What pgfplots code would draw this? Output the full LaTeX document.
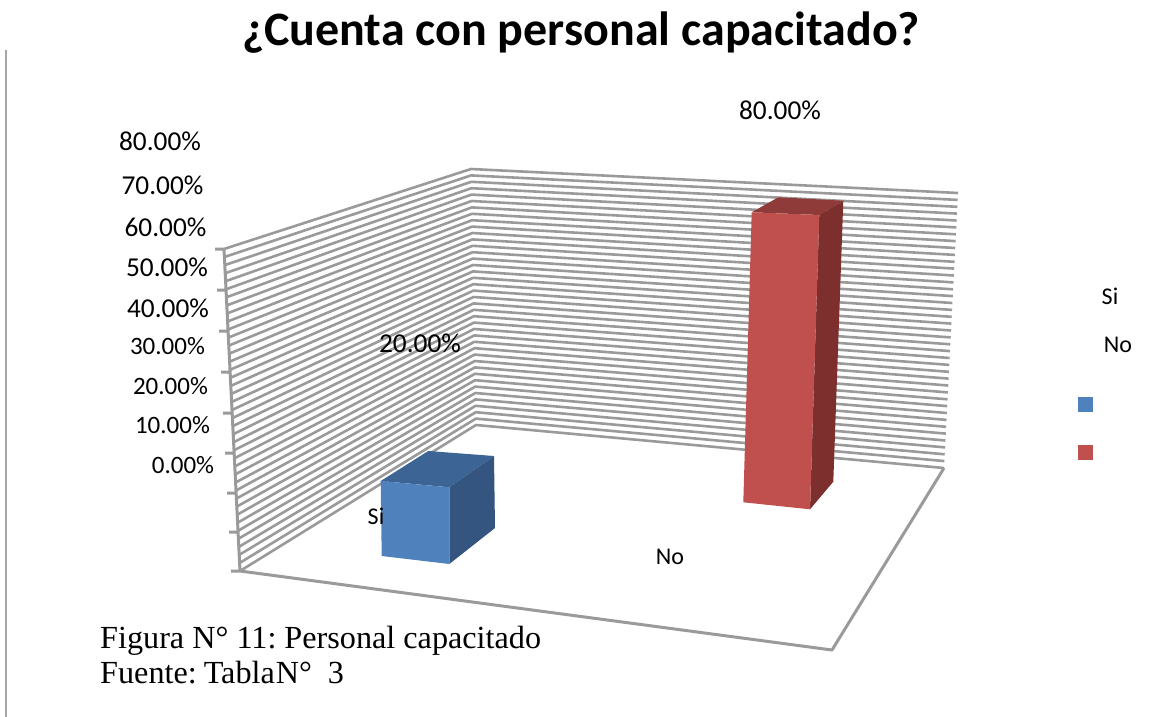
\documentclass[border=0pt]{standalone}
\usepackage{pgfplots}
\pgfplotsset{compat=1.18}
\usepackage{fontspec}
\setmainfont{Carlito}
\newfontfamily\capfont{Liberation Serif}
\definecolor{gridc}{HTML}{9A9A9A}
\definecolor{bluef}{HTML}{4F81BD}
\definecolor{bluet}{HTML}{3C6494}
\definecolor{blues}{HTML}{33557F}
\definecolor{redf}{HTML}{C0504D}
\definecolor{redt}{HTML}{8F3B39}
\definecolor{reds}{HTML}{7C2F2D}
\frenchspacing
\begin{document}
\begin{tikzpicture}
\useasboundingbox (0,0) rectangle (1151pt,717pt);
\begin{axis}[at={(0,0)},anchor=south west,scale only axis,width=1151pt,height=717pt,
  xmin=0,xmax=1151,ymin=0,ymax=717,y dir=reverse,axis lines=none,clip=false,
  unbounded coords=jump]
% page rule
\addplot[draw=gray!70,line width=2.4pt,mark=none] coordinates {(6,50) (6,717)};
% gridlines: left edge, back corner, right edge
\addplot[draw=gridc,line width=2.6pt,mark=none,line join=round] coordinates {
(224,249) (471,169) (958,193) (nan,nan)
(224.4,257) (471.1,175.4) (957.7,199.9) (nan,nan)
(224.8,265.1) (471.3,181.8) (957.3,206.8) (nan,nan)
(225.2,273.2) (471.4,188.2) (957,213.6) (nan,nan)
(225.6,281.2) (471.5,194.6) (956.6,220.5) (nan,nan)
(226,289.3) (471.6,201) (956.3,227.4) (nan,nan)
(226.4,297.3) (471.8,207.4) (955.9,234.3) (nan,nan)
(226.8,305.4) (471.9,213.8) (955.6,241.1) (nan,nan)
(227.2,313.4) (472,220.2) (955.2,248) (nan,nan)
(227.6,321.5) (472.1,226.6) (954.9,254.9) (nan,nan)
(228,329.5) (472.3,233) (954.5,261.8) (nan,nan)
(228.4,337.6) (472.4,239.4) (954.2,268.6) (nan,nan)
(228.8,345.6) (472.5,245.8) (953.8,275.5) (nan,nan)
(229.2,353.7) (472.6,252.2) (953.5,282.4) (nan,nan)
(229.6,361.7) (472.8,258.6) (953.1,289.3) (nan,nan)
(230,369.8) (472.9,265) (952.8,296.1) (nan,nan)
(230.4,377.8) (473,271.4) (952.4,303) (nan,nan)
(230.8,385.9) (473.1,277.8) (952.1,309.9) (nan,nan)
(231.2,393.9) (473.3,284.2) (951.7,316.8) (nan,nan)
(231.6,402) (473.4,290.6) (951.4,323.6) (nan,nan)
(232,410) (473.5,297) (951,330.5) (nan,nan)
(232.4,418.1) (473.6,303.4) (950.7,337.4) (nan,nan)
(232.8,426.1) (473.8,309.8) (950.3,344.3) (nan,nan)
(233.2,434.2) (473.9,316.2) (950,351.1) (nan,nan)
(233.6,442.2) (474,322.6) (949.6,358) (nan,nan)
(234,450.3) (474.1,329) (949.3,364.9) (nan,nan)
(234.4,458.3) (474.3,335.4) (948.9,371.8) (nan,nan)
(234.8,466.4) (474.4,341.8) (948.6,378.6) (nan,nan)
(235.2,474.4) (474.5,348.2) (948.2,385.5) (nan,nan)
(235.6,482.5) (474.6,354.6) (947.9,392.4) (nan,nan)
(236,490.5) (474.8,361) (947.5,399.3) (nan,nan)
(236.4,498.6) (474.9,367.4) (947.2,406.1) (nan,nan)
(236.8,506.6) (475,373.8) (946.8,413) (nan,nan)
(237.2,514.7) (475.1,380.2) (946.5,419.9) (nan,nan)
(237.6,522.7) (475.3,386.6) (946.1,426.8) (nan,nan)
(238,530.8) (475.4,393) (945.8,433.6) (nan,nan)
(238.4,538.8) (475.5,399.4) (945.4,440.5) (nan,nan)
(238.8,546.9) (475.6,405.8) (945.1,447.4) (nan,nan)
(239.2,554.9) (475.8,412.2) (944.7,454.3) (nan,nan)
(239.6,563) (475.9,418.6) (944.4,461.1) (nan,nan)
(240,571) (476,425) (944,468)
};
% axis line, ticks and floor edge
\addplot[draw=gridc,line width=3pt,mark=none,line join=round] coordinates {
(224,249) (240,571) (832,650) (944,468) (nan,nan)
(215,249) (224,249) (nan,nan)
(217,290) (226,290) (nan,nan)
(219,331) (228,331) (nan,nan)
(221,372) (230,372) (nan,nan)
(223,413) (232,413) (nan,nan)
(225,453) (234,453) (nan,nan)
(227,493) (236,493) (nan,nan)
(229,532) (238,532) (nan,nan)
(231,571) (240,571)
};
% blue bar
\addplot[fill=bluet,draw=none,mark=none] coordinates {(380.7,481) (428.3,451) (494,456) (449.3,487.3)} --cycle;
\addplot[fill=blues,draw=none,mark=none] coordinates {(449.3,487.3) (494,456) (495,528) (449.3,564)} --cycle;
\addplot[fill=bluef,draw=none,mark=none] coordinates {(380.7,481) (449.3,487.3) (449.3,564) (381.7,556)} --cycle;
% red bar
\addplot[fill=redt,draw=none,mark=none] coordinates {(751.7,212.3) (778.3,197.3) (843.3,200.7) (819.3,215)} --cycle;
\addplot[fill=reds,draw=none,mark=none] coordinates {(819.3,215) (843.3,200.7) (833.3,481.7) (810,509.3)} --cycle;
\addplot[fill=redf,draw=none,mark=none] coordinates {(751.7,212.3) (819.3,215) (810,509.3) (743.3,502.3)} --cycle;
% legend keys
\addplot[fill=bluef,draw=none,mark=none] coordinates {(1078,397) (1093,397) (1093,412) (1078,412)} --cycle;
\addplot[fill=redf,draw=none,mark=none] coordinates {(1078,445) (1093,445) (1093,460) (1078,460)} --cycle;
% texts
\node[font=\fontsize{48}{54}\selectfont\bfseries] at (axis cs:581,33) {¿Cuenta con personal capacitado?};
\def\pct{\fontsize{27.3}{32}\selectfont}
\def\pcts{\fontsize{25}{30}\selectfont}
\node[font=\pct] at (axis cs:160,141) {80.00\%};
\node[font=\pct] at (axis cs:162.5,185) {70.00\%};
\node[font=\pct] at (axis cs:165.5,227) {60.00\%};
\node[font=\pct] at (axis cs:167,267) {50.00\%};
\node[font=\pct] at (axis cs:168,308) {40.00\%};
\node[font=\pcts] at (axis cs:167.5,346) {30.00\%};
\node[font=\pcts] at (axis cs:170.5,386) {20.00\%};
\node[font=\pcts] at (axis cs:172.5,425) {10.00\%};
\node[font=\pcts] at (axis cs:183,465) {0.00\%};
\node[font=\pct] at (axis cs:420,343) {20.00\%};
\node[font=\pct] at (axis cs:780,110) {80.00\%};
\def\cat{\fontsize{24}{28}\selectfont}
\node[font=\cat] at (axis cs:376,516) {Si};
\node[font=\cat] at (axis cs:670,557) {No};
\node[font=\cat] at (axis cs:1110,296) {Si};
\node[font=\cat] at (axis cs:1118,345) {No};
\node[font=\fontsize{32.2}{36}\selectfont\capfont,anchor=base west,inner sep=0pt] at (axis cs:100,648) {Figura N° 11: Personal capacitado};
\node[font=\fontsize{32.2}{36}\selectfont\capfont,anchor=base west,inner sep=0pt] at (axis cs:100,683) {Fuente:\kern 7pt Tabla\kern 1pt N°\kern 16pt 3};
\end{axis}
\end{tikzpicture}
\end{document}
